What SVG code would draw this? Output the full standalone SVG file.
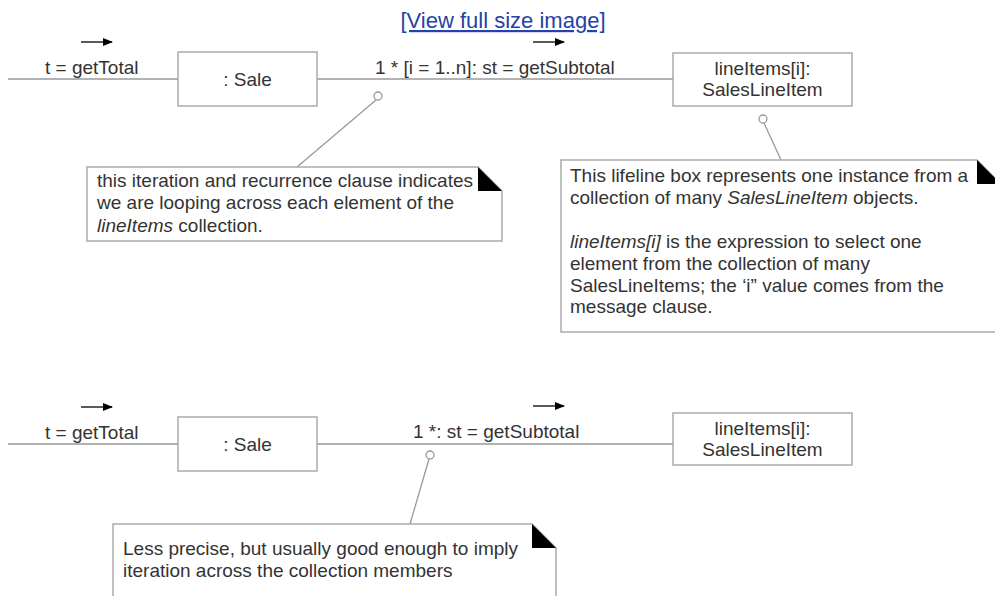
<svg xmlns="http://www.w3.org/2000/svg" width="995" height="596" viewBox="0 0 995 596">
<style>
text{font-family:"Liberation Sans",Arial,sans-serif;fill:#333}
.lbl{font-size:19px}
.note{font-size:19px}
.box{fill:#fff;stroke:#aaa;stroke-width:1.5}
.ln{stroke:#999;stroke-width:1.3;fill:none}
.fold{fill:#000}
.dir{stroke:#000;stroke-width:1.3}
.it{font-style:italic}
.link{font-size:22px;fill:#2443a8;text-decoration:underline}
</style>
<defs>
<marker id="ah" markerWidth="10" markerHeight="8" refX="9" refY="4" orient="auto" markerUnits="userSpaceOnUse">
<path d="M0,0 L10,4 L0,8 z" fill="#000"/>
</marker>
</defs>
<text class="link" x="503" y="28" text-anchor="middle">[View full size image]</text>

<g id="connectors">
<line class="ln" x1="8" y1="79" x2="178" y2="79"/>
<line class="ln" x1="317" y1="79" x2="673" y2="79"/>
<line class="dir" x1="81" y1="42" x2="112" y2="42" marker-end="url(#ah)"/>
<line class="dir" x1="533" y1="42" x2="564" y2="42" marker-end="url(#ah)"/>
<circle class="ln" cx="378" cy="96" r="4" fill="#fff"/>
<line class="ln" x1="376" y1="100" x2="297" y2="167"/>
<circle class="ln" cx="763" cy="119" r="4" fill="#fff"/>
<line class="ln" x1="764" y1="123" x2="781" y2="160"/>

<line class="ln" x1="8" y1="444" x2="178" y2="444"/>
<line class="ln" x1="317" y1="444" x2="673" y2="444"/>
<line class="dir" x1="81" y1="407" x2="112" y2="407" marker-end="url(#ah)"/>
<line class="dir" x1="533" y1="406" x2="564" y2="406" marker-end="url(#ah)"/>
<circle class="ln" cx="430" cy="455" r="4" fill="#fff"/>
<line class="ln" x1="429" y1="459" x2="410" y2="524"/>
<text class="lbl" x="45" y="74">t = getTotal</text>
<text class="lbl" x="375" y="74">1 * [i = 1..n]: st = getSubtotal</text>
<text class="lbl" x="45" y="439">t = getTotal</text>
<text class="lbl" x="413" y="438">1 *: st = getSubtotal</text>
</g>

<g id="sale1">
<rect class="box" x="178" y="52" width="139" height="54"/>
<text class="lbl" x="247.5" y="86" text-anchor="middle">: Sale</text>
</g>
<g id="lineitem1">
<rect class="box" x="673" y="53" width="179" height="53"/>
<text class="lbl" x="762.5" y="75" text-anchor="middle">lineItems[i]:</text>
<text class="lbl" x="762.5" y="96" text-anchor="middle">SalesLineItem</text>
</g>
<g id="note1">
<path class="box" d="M87,167 H478 L502,191 V241 H87 Z"/>
<path class="fold" d="M478,167 L502,191 H478 Z"/>
<text class="note" x="97" y="187">this iteration and recurrence clause indicates</text>
<text class="note" x="97" y="209">we are looping across each element of the</text>
<text class="note" x="97" y="232"><tspan class="it">lineItems</tspan> collection.</text>
</g>
<g id="note2">
<path class="box" d="M561,160 H977 L1001,184 V332 H561 Z"/>
<path class="fold" d="M977,160 L1001,184 H977 Z"/>
<text class="note" x="570" y="182">This lifeline box represents one instance from a</text>
<text class="note" x="570" y="204">collection of many <tspan class="it">SalesLineItem</tspan> objects.</text>
<text class="note" x="570" y="248"><tspan class="it">lineItems[i]</tspan> is the expression to select one</text>
<text class="note" x="570" y="270">element from the collection of many</text>
<text class="note" x="570" y="292">SalesLineItems; the ‘i” value comes from the</text>
<text class="note" x="570" y="313">message clause.</text>
</g>

<g id="sale2">
<rect class="box" x="178" y="417" width="139" height="54"/>
<text class="lbl" x="247.5" y="451" text-anchor="middle">: Sale</text>
</g>
<g id="lineitem2">
<rect class="box" x="673" y="413" width="179" height="52"/>
<text class="lbl" x="762.5" y="435" text-anchor="middle">lineItems[i]:</text>
<text class="lbl" x="762.5" y="456" text-anchor="middle">SalesLineItem</text>
</g>
<g id="note3">
<path class="box" d="M113,524 H532 L556,548 V600 H113 Z"/>
<path class="fold" d="M532,524 L556,548 H532 Z"/>
<text class="note" x="123" y="555">Less precise, but usually good enough to imply</text>
<text class="note" x="123" y="577">iteration across the collection members</text>
</g>
</svg>
